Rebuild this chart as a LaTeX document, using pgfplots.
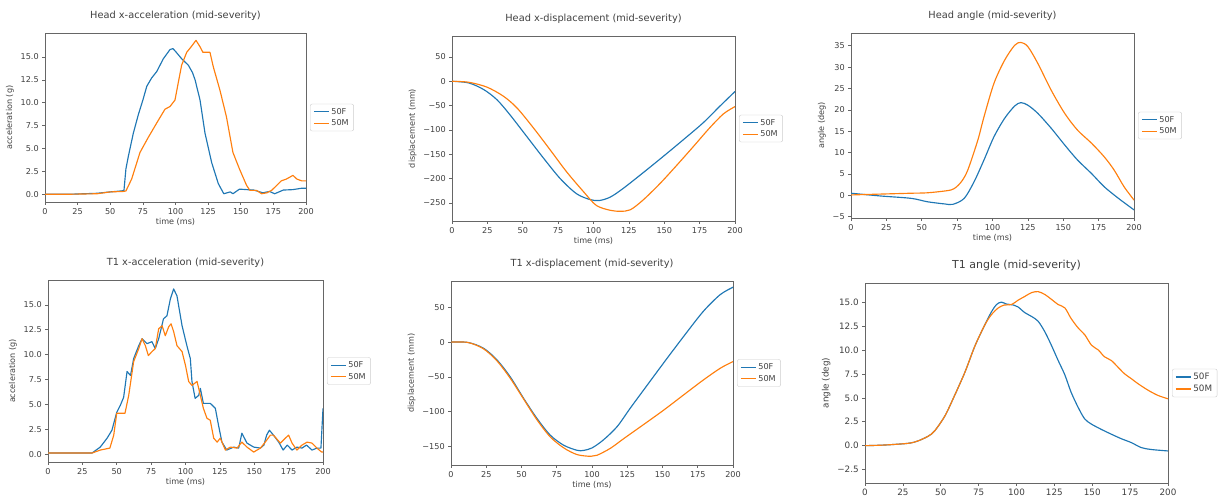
\documentclass[border=0pt]{standalone}
\usepackage{pgfplots}
\pgfplotsset{compat=1.18}
\usepackage{fontspec}
\setmainfont{DejaVu Sans}
\definecolor{mblue}{HTML}{1F77B4}
\definecolor{morange}{HTML}{FF7F0E}
\newcommand{\tfont}{\fontsize{8.1}{9.7}\selectfont}
\newcommand{\hfont}{\fontsize{9.8}{11.8}\selectfont}
\pgfplotsset{
  mplax/.style={
    scale only axis, anchor=north west,
    xmin=0, xmax=200, xtick={0,25,...,200},
    /pgf/number format/assume math mode=true,
    tick pos=left, tick align=outside, major tick length=2.8pt,
    axis line style={black!60, line width=0.65pt},
    tick style={black!60, line width=0.65pt},
    tick label style={font=\tfont, text=black!75},
    label style={font=\tfont, text=black!75},
    xlabel={time (ms)},
    xlabel style={yshift=3pt},
    title style={font=\hfont, text=black!75, yshift=3pt},
    legend style={at={(1,0.5)}, anchor=west, xshift=4pt, draw=black!20,
      rounded corners=2pt, font=\tfont, text=black!75, inner xsep=3pt, inner ysep=2pt,
      row sep=0pt},
    legend cell align=left,
    legend image code/.code={\draw[##1, line width=1.15pt] (0pt,0pt) -- (15pt,0pt);},
    every axis plot/.append style={line width=1.15pt, line join=round},
  },
}
\begin{document}
\begin{tikzpicture}
% ---------- Panel 1: Head x-acceleration
\begin{axis}[mplax, at={(45pt,-33pt)}, width=261pt, height=169pt,
  title={Head x-acceleration (mid-severity)},
  ymin=-0.8, ymax=17.6, ytick={0,2.5,5,7.5,10,12.5,15},
  yticklabels={0.0,2.5,5.0,7.5,10.0,12.5,15.0},
  ylabel={acceleration (g)}]
\addplot[mblue] coordinates {(0,0.05)(20,0.05)(40,0.15)(50,0.3)(58,0.4)(60.5,0.45)(62,2.8)(63.9,4.2)(67.7,6.7)(71.5,8.7)(75,10.3)(78,11.8)(81.7,12.7)(85.6,13.4)(90.7,14.8)(95.8,15.8)(98,15.9)(100,15.6)(104.7,14.8)(109.8,14.1)(113,13.3)(115,12.5)(118.8,10.3)(122.6,6.7)(127.7,3.5)(132.8,1.2)(137,0.1)(142,0.3)(144,0.1)(149,0.6)(160,0.5)(167,0.2)(172,0.35)(176,0.1)(182.6,0.5)(190,0.55)(196.7,0.7)(200,0.7)};
\addplot[morange] coordinates {(0,0.05)(20,0.05)(40,0.1)(50,0.3)(60,0.35)(62,0.4)(66.4,1.7)(72.8,4.6)(79,6.2)(85.6,7.8)(91.9,9.3)(95.8,9.6)(99.6,10.3)(102,12.1)(104.7,14.1)(108.6,15.5)(112,16.1)(115.7,16.8)(118.8,16.1)(121,15.5)(126.4,15.5)(129,13.9)(134,11.4)(139,8.5)(144,4.6)(149,2.8)(154.5,1.0)(157,0.47)(162,0.47)(166,0.1)(170,0.2)(173.7,0.47)(177.5,1.0)(181,1.5)(185,1.7)(190,2.1)(193,1.7)(196.7,1.5)(200,1.5)};
\legend{50F,50M}
\end{axis}
% ---------- Panel 2: Head x-displacement
\begin{axis}[mplax, at={(452pt,-36pt)}, width=283pt, height=185pt,
  title={Head x-displacement (mid-severity)},
  ymin=-287, ymax=93, ytick={-250,-200,-150,-100,-50,0,50},
  yticklabels={−250,−200,−150,−100,−50,0,50},
  ylabel={displacement (mm)}]
\addplot[mblue, smooth] coordinates {(0,0)(11.8,-3.4)(22.4,-17)(31.8,-38)(41,-69)(53,-114)(64.7,-158)(76.5,-200)(88,-231)(97.6,-243)(104,-245)(111.8,-238)(121,-220)(135,-188)(149,-155)(163.5,-120)(177.6,-85)(189,-52)(200,-21)};
\addplot[morange, smooth] coordinates {(0,0)(11.8,-2)(24.7,-12)(36.5,-31)(46,-55)(57.6,-96)(69.4,-141)(81,-186)(93,-227)(102,-255)(111.8,-265)(119,-267)(126,-264)(135,-244)(147,-210)(159,-172)(170.6,-134)(182,-96)(191.8,-67)(200,-52)};
\legend{50F,50M}
\end{axis}
% ---------- Panel 3: Head angle
\begin{axis}[mplax, at={(851pt,-33pt)}, width=283pt, height=185pt,
  title={Head angle (mid-severity)},
  ymin=-5.3, ymax=38, ytick={-5,0,5,10,15,20,25,30,35},
  yticklabels={−5,0,5,10,15,20,25,30,35},
  ylabel={angle (deg)}]
\addplot[mblue, smooth] coordinates {(0,0.5)(21,-0.15)(42.5,-0.7)(54,-1.5)(66,-2.0)(72,-2.1)(80,-0.7)(87,3.2)(94,8.3)(101,13.7)(108.5,18)(115.6,20.9)(120,21.7)(125,21.1)(132,19.2)(141.5,15.7)(151,11.8)(160,8.3)(170,5.1)(179,2.0)(189,-0.7)(200,-3.4)};
\addplot[morange, smooth] coordinates {(0,0.1)(21,0.3)(42.5,0.5)(54,0.6)(68,1.1)(73,1.6)(78,3.2)(82.5,5.9)(89.6,12.9)(94,18.4)(101,26.2)(108.5,31.6)(115.6,35.1)(120,35.8)(125,34.8)(132,30.9)(141.5,24.6)(151,19.2)(160,15.3)(170,12.2)(179,9.0)(186,5.9)(193,2.0)(200,-1.1)};
\legend{50F,50M}
\end{axis}
% ---------- Panel 4: T1 x-acceleration
\begin{axis}[mplax, at={(48pt,-280pt)}, width=275pt, height=182pt,
  title={T1 x-acceleration (mid-severity)},
  ymin=-0.8, ymax=17.5, ytick={0,2.5,5,7.5,10,12.5,15},
  yticklabels={0.0,2.5,5.0,7.5,10.0,12.5,15.0},
  ylabel={acceleration (g)}]
\addplot[mblue] coordinates {(0,0.1)(32,0.1)(38,0.7)(43,1.6)(46.5,2.4)(50,4.2)(52.6,4.9)(55,5.7)(57.5,8.3)(60,7.9)(62.3,9.6)(66,10.9)(68.4,11.6)(72,11.1)(75.6,11.3)(78,10.6)(80.5,11.6)(84,13.6)(86.5,13.9)(89,15.6)(91.4,16.6)(93.8,15.9)(97.5,12.9)(101,10.9)(103.5,9.6)(104.7,7.3)(107,5.6)(109.6,5.9)(110.8,6.6)(113,5.1)(118,5.1)(121.7,4.6)(124,2.9)(126.5,1.2)(130,0.4)(135,0.7)(138.7,0.6)(141,2.1)(144.7,1.1)(149.6,0.7)(154.5,0.6)(157,0.9)(159,1.9)(161,2.4)(164,1.9)(167.8,1.2)(171,0.4)(174,0.9)(177.5,0.4)(181,0.7)(184.7,0.6)(188,0.9)(192,0.4)(195.6,0.6)(198.5,0.6)(200,4.6)};
\addplot[morange] coordinates {(0,0.1)(32,0.1)(38,0.4)(45,0.6)(47.8,1.9)(50,4.1)(52.6,4.1)(56,4.1)(58.7,5.9)(62.3,9.3)(66,10.6)(68.4,11.6)(70.8,10.9)(73,9.9)(75.6,10.3)(78,10.6)(80.5,12.6)(83,12.9)(85.3,11.9)(87.8,12.8)(89.5,13.1)(91.4,12.3)(93.8,10.9)(97.5,10.3)(100,8.9)(102.3,7.3)(104.7,6.9)(108.4,7.3)(110.8,5.9)(113,4.6)(115.6,3.6)(118,3.4)(120.5,1.6)(123,1.2)(125.3,1.6)(129,0.4)(132.6,0.7)(137.5,0.6)(141,1.2)(144.7,0.7)(149.6,0.2)(154.5,0.6)(158,1.2)(161.7,1.9)(164,1.9)(169,1.1)(172.6,1.6)(175,1.9)(177.5,1.1)(181,0.4)(184.7,0.9)(188.4,1.2)(192,1.1)(195.6,0.6)(199,0.2)(200,0.2)};
\legend{50F,50M}
\end{axis}
% ---------- Panel 5: T1 x-displacement
\begin{axis}[mplax, at={(451pt,-281pt)}, width=282pt, height=184pt,
  title={T1 x-displacement (mid-severity)},
  ymin=-177, ymax=88, ytick={-150,-100,-50,0,50},
  yticklabels={−150,−100,−50,0,50},
  ylabel={displacement (mm)}]
\addplot[mblue, smooth] coordinates {(0,0)(12,-0.5)(23,-8.7)(32.6,-25.6)(42,-50)(51.5,-81)(61,-110)(70.4,-134)(80,-148.6)(89.4,-155.8)(94,-156)(100,-152.4)(108,-141)(117.7,-122)(127,-95.5)(136.6,-69)(150.8,-30)(165,8.2)(179,44.4)(191,68.5)(200,79)};
\addplot[morange, smooth] coordinates {(0,0)(12,-0.5)(23,-9.6)(32.6,-27)(42,-52)(51.5,-82)(61,-112)(70.4,-136.5)(80,-152.4)(89.4,-162)(99,-164.5)(103.5,-163)(113,-153)(122.5,-139)(136.6,-118.7)(150.8,-98)(165,-76)(179,-54.5)(191,-37.6)(200,-28)};
\legend{50F,50M}
\end{axis}
% ---------- Panel 6: T1 angle
\begin{axis}[mplax, at={(865pt,-283pt)}, width=303pt, height=200pt,
  title={T1 angle (mid-severity)},
  title style={font=\fontsize{11}{13}\selectfont},
  tick label style={font=\fontsize{8.8}{10.5}\selectfont},
  label style={font=\fontsize{8.8}{10.5}\selectfont},
  legend style={font=\fontsize{8.8}{10.5}\selectfont},
  xlabel={},
  ymin=-3.9, ymax=17, ytick={-2.5,0,2.5,5,7.5,10,12.5,15},
  yticklabels={−2.5,0.0,2.5,5.0,7.5,10.0,12.5,15.0},
  ylabel={angle (deg)}]
\addplot[mblue, smooth] coordinates {(0,0)(13,0.07)(28.6,0.25)(35,0.5)(41.8,1.0)(46,1.55)(52.7,3.1)(59,5.2)(66,7.7)(72.5,10.4)(79,12.6)(83.5,14)(86.8,14.75)(90,15)(93.4,14.8)(98,14.7)(101,14.5)(105.5,13.9)(110,13.5)(114.3,13)(118.7,11.9)(123,10.5)(127.5,8.9)(131.9,7.4)(136,5.6)(140.7,4.0)(145,2.8)(149.5,2.25)(156,1.7)(162.6,1.2)(169,0.74)(175.8,0.32)(182.4,-0.2)(189,-0.4)(200,-0.55)};
\addplot[morange, smooth] coordinates {(0,0)(13,0.07)(28.6,0.25)(35,0.5)(41.8,1.0)(46,1.55)(52.7,3.1)(59,5.2)(66,7.7)(72.5,10.4)(79,12.6)(83.5,13.7)(88,14.4)(92,14.7)(96.7,14.75)(101,15.2)(105.5,15.6)(110,16.0)(114.3,16.1)(118.7,15.8)(123,15.3)(127.5,14.75)(131.9,14.4)(136,13.3)(140.7,12.3)(145,11.6)(149.5,10.5)(154,10)(158,9.3)(162.6,8.9)(167,8.2)(171.4,7.5)(175.8,7.0)(180,6.5)(186.8,5.8)(193.4,5.25)(200,4.9)};
\legend{50F,50M}
\end{axis}
\pgfresetboundingbox
\useasboundingbox (0pt,0pt) rectangle (1228pt,-496pt);
\end{tikzpicture}
\end{document}
